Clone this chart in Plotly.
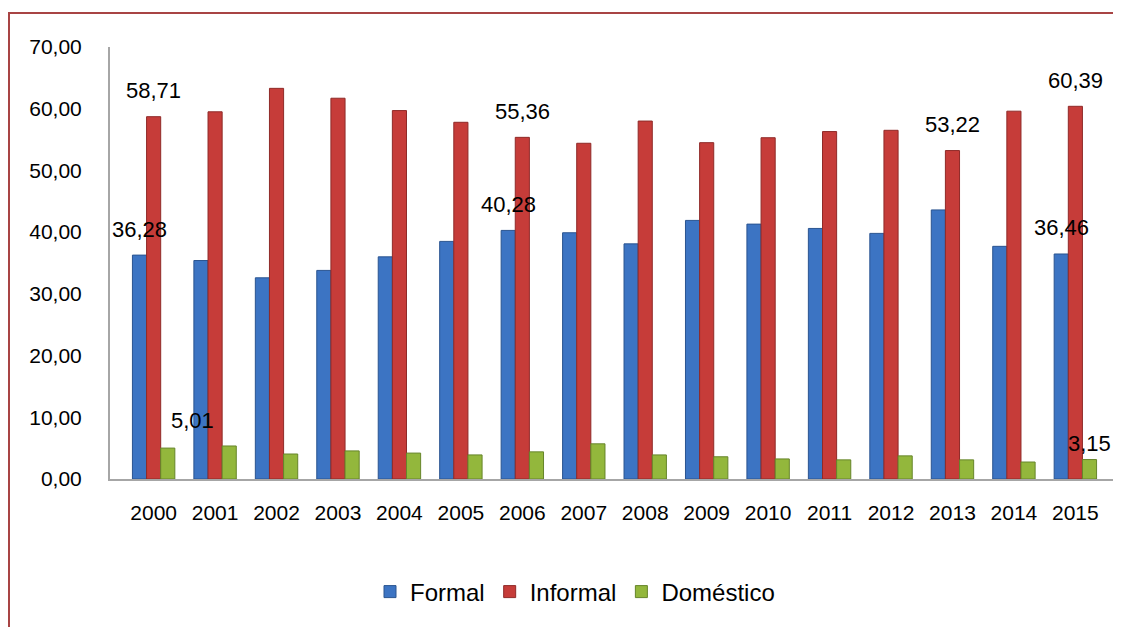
import plotly.graph_objects as go

years = [str(y) for y in range(2000, 2016)]
formal = [36.28, 35.4, 32.6, 33.8, 36.0, 38.5, 40.28, 39.9, 38.1, 41.9, 41.3, 40.6, 39.8, 43.6, 37.7, 36.46]
informal = [58.71, 59.5, 63.3, 61.7, 59.7, 57.8, 55.36, 54.4, 58.0, 54.5, 55.3, 56.3, 56.5, 53.22, 59.6, 60.39]
domestico = [5.01, 5.35, 4.05, 4.55, 4.2, 3.9, 4.4, 5.7, 3.9, 3.6, 3.25, 3.1, 3.75, 3.1, 2.75, 3.15]

# points that carry a data label (series, index)
labeled = {"Formal": [0, 6, 15], "Informal": [0, 6, 13, 15], "Doméstico": [0, 15]}

series = [
    ("Formal", formal, "#3c74c3", "#2a5490"),
    ("Informal", informal, "#c63c39", "#8f2a28"),
    ("Doméstico", domestico, "#93b73c", "#66852a"),
]

FONT = "Liberation Sans"
bargap = 0.31
bw = (1 - bargap) / 3

W, H = 1113, 619
L, R, T, B = 102, 8, 39, 148
PW, PH = W - L - R, H - T - B

fig = go.Figure()
for name, vals, col, edge in series:
    fig.add_trace(go.Bar(
        name=name, x=years, y=vals,
        marker=dict(color=col, line=dict(color=edge, width=1)),
    ))

def fmt(v):
    return f"{v:.2f}".replace(".", ",")

annotations = []
for si, (name, vals, col, edge) in enumerate(series):
    off = (si - 1) * bw
    for i in labeled[name]:
        xs = 0
        ys = 26
        if name == "Doméstico" and i == 0:
            xs = 25
            ys = 28
        if name == "Doméstico" and i == 15:
            ys = 16
        annotations.append(dict(
            x=i + off, y=vals[i], xref="x", yref="y",
            text=fmt(vals[i]), showarrow=False,
            xshift=xs, yshift=ys,
            font=dict(family=FONT, size=22, color="#000000"),
        ))

fig.update_layout(
    width=W, height=H,
    margin=dict(l=L, r=R, t=T, b=B),
    paper_bgcolor="white", plot_bgcolor="white",
    barmode="group", bargap=bargap, bargroupgap=0,
    separators=",.",
    showlegend=True,
    legend=dict(orientation="h", x=(567 - L) / PW, xanchor="center",
                y=(PH + T - 584) / PH, yanchor="middle",
                font=dict(family=FONT, size=24, color="#000000"),
                itemclick=False, traceorder="normal"),
    annotations=annotations,
    shapes=[dict(type="rect", xref="paper", yref="paper",
                 x0=(1 - L) / PW, x1=(1130 - L) / PW,
                 y0=(PH + T - 660) / PH, y1=(PH + T - 5) / PH,
                 line=dict(color="#a84444", width=2), fillcolor="rgba(0,0,0,0)")],
)
fig.update_xaxes(type="category", showgrid=False, showline=True, linecolor="#a6a6a6", linewidth=2,
                 ticks="", tickfont=dict(family=FONT, size=21, color="#000000"),
                 ticklabelstandoff=14)
fig.update_yaxes(range=[0, 70], dtick=10, tickformat=".2f", showgrid=False, zeroline=False,
                 showline=True, linecolor="#a6a6a6", linewidth=2, ticks="",
                 tickfont=dict(family=FONT, size=21, color="#000000"), ticklabelstandoff=22)

fig.write_html("out.html")
